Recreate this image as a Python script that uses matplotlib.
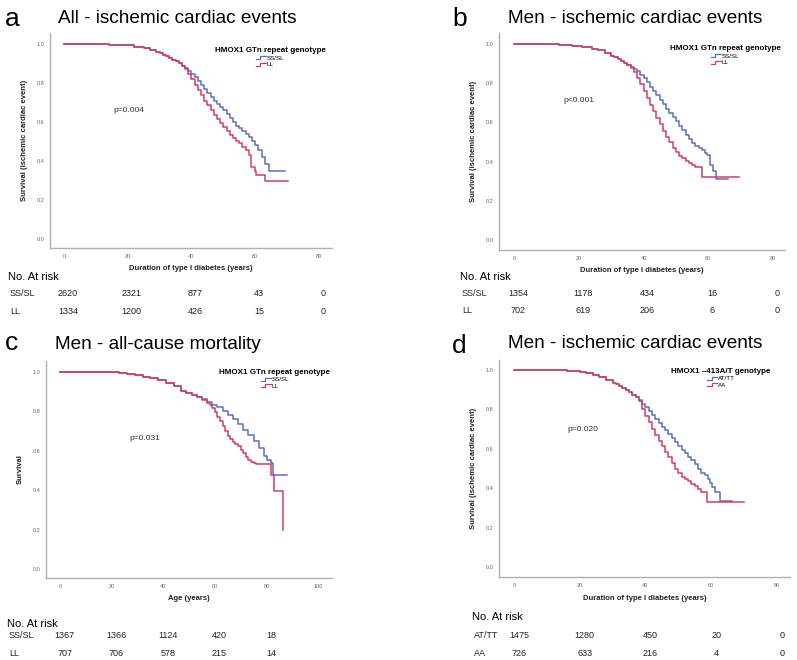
import numpy as np
import matplotlib.pyplot as plt
from matplotlib.lines import Line2D
from matplotlib.legend_handler import HandlerBase
from matplotlib.transforms import blended_transform_factory

plt.rcParams['font.family'] = ['Liberation Sans', 'DejaVu Sans']

BLUE = '#5b6fc1'
RED = '#d83a62'

# ---- panel a: all, ischemic cardiac events (GTn repeat)
a_ss_t = [0, 5, 10, 14, 18, 22, 25, 27, 29, 30, 31, 32, 33, 34, 35, 36, 37, 38, 39, 40, 41, 42, 43, 44, 45, 46, 47,
          48, 49, 50, 51, 52, 53, 54, 55, 56, 57, 58, 59, 60, 61, 62, 63, 64.2, 69.3]
a_ss_s = [1.0, 1.0, 0.999, 0.997, 0.992, 0.985, 0.978, 0.97, 0.96, 0.952, 0.945, 0.937, 0.928, 0.92, 0.91, 0.9, 0.889,
          0.876, 0.86, 0.845, 0.828, 0.81, 0.79, 0.77, 0.748, 0.728, 0.71, 0.694, 0.677, 0.66, 0.643, 0.62, 0.598,
          0.58, 0.568, 0.556, 0.54, 0.525, 0.505, 0.482, 0.455, 0.42, 0.385, 0.347, 0.347]
a_ll_t = [0, 5, 10, 14, 18, 22, 25, 27, 29, 30, 31, 32, 33, 34, 35, 36, 37, 38, 39, 40, 41, 42, 43, 44, 45, 46, 47,
          48, 49, 50, 51, 52, 53, 54, 55, 56, 57, 58, 58.8, 60, 60.4, 63, 70.3]
a_ll_s = [1.0, 1.0, 0.999, 0.997, 0.992, 0.985, 0.978, 0.97, 0.96, 0.952, 0.945, 0.937, 0.928, 0.92, 0.91, 0.9, 0.889,
          0.87, 0.845, 0.818, 0.79, 0.765, 0.738, 0.71, 0.685, 0.66, 0.637, 0.615, 0.595, 0.575, 0.553, 0.535, 0.52,
          0.503, 0.49, 0.472, 0.455, 0.43, 0.37, 0.35, 0.33, 0.296, 0.296]
a_risk_ss = [2620, 2321, 877, 43, 0]
a_risk_ll = [1334, 1200, 426, 15, 0]

# ---- panel b: men, ischemic cardiac events (GTn repeat)
b_ss_t = [0, 5, 10, 14, 18, 21, 24, 26, 28, 30, 31, 32, 33, 34, 35, 36, 37, 38, 39, 40, 41, 42, 43, 44, 45, 46, 47,
          48, 49, 50, 51, 52, 53, 54, 55, 56, 57, 58, 59, 59.5, 60.5, 61.5, 62.4, 66.2]
b_ss_s = [1.0, 1.0, 0.998, 0.995, 0.99, 0.984, 0.976, 0.968, 0.955, 0.94, 0.932, 0.922, 0.913, 0.905, 0.895, 0.884,
          0.872, 0.86, 0.843, 0.825, 0.805, 0.783, 0.76, 0.738, 0.715, 0.692, 0.67, 0.648, 0.625, 0.605, 0.583, 0.56,
          0.537, 0.515, 0.495, 0.478, 0.47, 0.46, 0.445, 0.435, 0.385, 0.35, 0.313, 0.313]
b_ll_t = [0, 5, 10, 14, 18, 21, 24, 26, 28, 30, 31, 32, 33, 34, 35, 36, 37, 38, 39, 40, 41, 42, 43, 44, 45, 46, 47,
          48, 49, 50, 51, 52, 53, 54, 55, 56, 57, 58, 69.5]
b_ll_s = [1.0, 1.0, 0.998, 0.995, 0.99, 0.984, 0.976, 0.968, 0.955, 0.94, 0.932, 0.922, 0.913, 0.905, 0.895, 0.878,
          0.855, 0.827, 0.795, 0.76, 0.725, 0.69, 0.657, 0.623, 0.59, 0.558, 0.527, 0.5, 0.47, 0.447, 0.43, 0.418,
          0.405, 0.395, 0.383, 0.372, 0.37, 0.323, 0.323]
b_risk_ss = [1354, 1178, 434, 16, 0]
b_risk_ll = [702, 619, 206, 6, 0]

# ---- panel c: men, all-cause mortality by age
c_ss_t = [0, 10, 20, 23, 26, 29, 32, 35, 38, 41, 44, 47, 49, 51, 53, 55, 57, 59, 61, 63, 65, 67, 69, 71, 73, 75, 77,
          79, 80.1, 81.7, 82.4, 87.8]
c_ss_s = [1.0, 1.0, 0.999, 0.995, 0.99, 0.984, 0.977, 0.968, 0.957, 0.945, 0.93, 0.905, 0.895, 0.885, 0.875, 0.862,
          0.848, 0.835, 0.82, 0.8, 0.782, 0.76, 0.735, 0.705, 0.68, 0.65, 0.615, 0.575, 0.553, 0.537, 0.477, 0.477]
c_ll_t = [0, 10, 20, 23, 26, 29, 32, 35, 38, 41, 44, 47, 49, 51, 53, 55, 57, 58, 59, 60, 61, 62, 63, 64, 65, 66, 67,
          68, 69, 70, 71, 72, 73, 74, 75, 76, 81.8, 83, 86.6]
c_ll_s = [1.0, 1.0, 0.999, 0.995, 0.99, 0.984, 0.977, 0.968, 0.957, 0.945, 0.93, 0.905, 0.895, 0.885, 0.875, 0.86,
          0.845, 0.835, 0.818, 0.795, 0.772, 0.75, 0.725, 0.7, 0.675, 0.66, 0.645, 0.637, 0.625, 0.605, 0.587, 0.57,
          0.553, 0.545, 0.537, 0.531, 0.477, 0.396, 0.2]
c_risk_ss = [1367, 1366, 1124, 420, 18]
c_risk_ll = [707, 706, 578, 215, 14]

# ---- panel d: men, ischemic cardiac events (-413A/T)
d_at_t = [0, 5, 10, 16, 20, 22, 24, 26, 28, 30, 31, 32, 33, 34, 35, 36, 37, 38, 39, 40, 41, 42, 43, 44, 45, 46, 47,
          48, 49, 50, 51, 52, 53, 54, 55, 56, 57, 58, 59, 59.6, 60.4, 61.1, 62.6, 66.5]
d_at_s = [1.0, 1.0, 0.998, 0.993, 0.987, 0.983, 0.975, 0.966, 0.95, 0.935, 0.926, 0.917, 0.908, 0.898, 0.887, 0.874,
          0.86, 0.845, 0.828, 0.81, 0.793, 0.773, 0.753, 0.733, 0.712, 0.693, 0.673, 0.653, 0.633, 0.614, 0.595, 0.577,
          0.56, 0.545, 0.525, 0.5, 0.478, 0.465, 0.448, 0.425, 0.405, 0.382, 0.337, 0.337]
d_aa_t = [0, 5, 10, 16, 20, 22, 24, 26, 28, 30, 31, 32, 33, 34, 35, 36, 37, 38, 39, 40, 41, 42, 43, 44, 45, 46, 47,
          48, 49, 50, 51, 52, 53, 54, 55, 56, 57, 58.6, 69.9]
d_aa_s = [1.0, 1.0, 0.998, 0.993, 0.987, 0.983, 0.975, 0.966, 0.95, 0.935, 0.926, 0.917, 0.908, 0.898, 0.887, 0.874,
          0.86, 0.84, 0.8, 0.765, 0.735, 0.7, 0.668, 0.64, 0.612, 0.585, 0.557, 0.53, 0.5, 0.475, 0.458, 0.445, 0.435,
          0.422, 0.41, 0.395, 0.383, 0.331, 0.331]
d_risk_at = [1475, 1280, 450, 20, 0]
d_risk_aa = [726, 633, 216, 4, 0]

risk_times = [0, 20, 40, 60, 80]

W, H = 797, 660
fig = plt.figure(figsize=(W / 100, H / 100), dpi=100)


class StepHandler(HandlerBase):
    # SPSS style little step glyph in the legend
    def create_artists(self, legend, orig_handle, xdescent, ydescent, width, height, fontsize, trans):
        xs = np.array([0.0, 0.45, 0.45, 1.0]) * width - xdescent
        ys = np.array([0.15, 0.15, 0.85, 0.85]) * height - ydescent
        ln = Line2D(xs, ys, color=orig_handle.get_color(), lw=0.9)
        ln.set_transform(trans)
        return [ln]


def fy(px):
    return 1 - px / H


def panel(box, xlim, ylim, xticks, curves, labels, leg_title, leg_xy, ptxt, pxy, xlabel, ylabel,
          letter, letter_xy, title, title_xy, risk_x, risk_rows, risk_label_xy, row_ys):
    l, r, t, b = box
    ax = fig.add_axes([l / W, fy(b), (r - l) / W, (b - t) / H])
    handles = []
    for (tt, ss), col in zip(curves, [BLUE, RED]):
        h, = ax.step(tt, ss, where='post', color=col, lw=1.1)
        handles.append(h)
    ax.set_xlim(*xlim)
    ax.set_ylim(*ylim)
    ax.set_xticks(xticks)
    ax.set_yticks([0.0, 0.2, 0.4, 0.6, 0.8, 1.0])
    ax.set_yticklabels(['0.0', '0.2', '0.4', '0.6', '0.8', '1.0'])
    ax.tick_params(length=0, labelsize=4, colors='#666666', pad=4)
    for s in ['top', 'right']:
        ax.spines[s].set_visible(False)
    for s in ['left', 'bottom']:
        ax.spines[s].set_color('#b0b0b0')
        ax.spines[s].set_linewidth(1.0)
    ax.set_xlabel(xlabel, fontsize=5.5, fontweight='bold', labelpad=5, color='#222222')
    ax.set_ylabel(ylabel, fontsize=5.5, fontweight='bold', labelpad=6, color='#222222')
    leg = ax.legend(handles, labels, title=leg_title, loc='upper center', bbox_to_anchor=leg_xy,
                    frameon=False, fontsize=4.5, handler_map={Line2D: StepHandler()},
                    handlelength=1.6, handletextpad=0.1, labelspacing=0.2, borderpad=0.2)
    leg.get_title().set_fontsize(5.8)
    leg.get_title().set_fontweight('bold')
    ax.text(pxy[0], pxy[1], ptxt, fontsize=6, ha='center', va='center', color='#333333')

    fig.text(letter_xy[0] / W, fy(letter_xy[1]), letter, fontsize=19, va='baseline', ha='left')
    fig.text(title_xy[0] / W, fy(title_xy[1]), title, fontsize=13.7, va='baseline', ha='left')
    fig.text(risk_label_xy[0] / W, fy(risk_label_xy[1]), 'No. At risk', fontsize=8, va='baseline')
    tr = blended_transform_factory(ax.transData, fig.transFigure)
    for (name, vals), yb in zip(risk_rows, row_ys):
        fig.text(risk_label_xy[0] / W + 2 / W, fy(yb), name, fontsize=6.5, va='baseline', color='#222222')
        for xv, v in zip(risk_x, vals):
            ax.text(xv, fy(yb), str(v), fontsize=6.5, va='baseline', ha='center', transform=tr,
                    clip_on=False, color='#222222')
    return ax


ylab_ice = 'Survival (ischemic cardiac event)'
xlab_dur = 'Duration of type I diabetes (years)'

panel((50, 332, 33, 248), (-4.4, 84.1), (-0.046, 1.056), [0, 20, 40, 60, 80],
      [(a_ss_t, a_ss_s), (a_ll_t, a_ll_s)], ['SS/SL', 'LL'], 'HMOX1 GTn repeat genotype', (0.78, 0.955),
      'p=0.004', (20.4, 0.66), xlab_dur, ylab_ice,
      'a', (5, 26), 'All - ischemic cardiac events', (58, 23),
      [t + 1.2 for t in risk_times], [('SS/SL', a_risk_ss), ('LL', a_risk_ll)], (8, 280), [296, 314])

panel((499, 785, 33, 250), (-4.63, 83.7), (-0.051, 1.056), [0, 20, 40, 60, 80],
      [(b_ss_t, b_ss_s), (b_ll_t, b_ll_s)], ['SS/SL', 'LL'], 'HMOX1 GTn repeat genotype', (0.79, 0.965),
      'p<0.001', (20.1, 0.714), xlab_dur, ylab_ice,
      'b', (452, 26), 'Men - ischemic cardiac events', (508, 23),
      [t + 1.2 for t in risk_times], [('SS/SL', b_risk_ss), ('LL', b_risk_ll)], (460, 280), [296, 313])

panel((46, 332, 361, 578), (-5.4, 105.4), (-0.046, 1.056), [0, 20, 40, 60, 80, 100],
      [(c_ss_t, c_ss_s), (c_ll_t, c_ll_s)], ['SS/SL', 'LL'], 'HMOX1 GTn repeat genotype', (0.80, 0.985),
      'p=0.031', (33, 0.66), 'Age (years)', 'Survival',
      'c', (5, 350), 'Men - all-cause mortality', (55, 349),
      [t + 1.8 for t in risk_times], [('SS/SL', c_risk_ss), ('LL', c_risk_ll)], (7, 627), [638, 656])

panel((499, 790, 360, 577), (-4.56, 84.0), (-0.05, 1.05), [0, 20, 40, 60, 80],
      [(d_at_t, d_at_s), (d_aa_t, d_aa_s)], ['AT/TT', 'AA'], 'HMOX1 \u2013413A/T genotype', (0.763, 0.985),
      'p=0.020', (21, 0.70), xlab_dur, ylab_ice,
      'd', (452, 353), 'Men - ischemic cardiac events', (508, 348),
      [t + 1.5 for t in risk_times], [('AT/TT', d_risk_at), ('AA', d_risk_aa)], (472, 620), [638, 656])

fig.savefig('out.png', dpi=100)
